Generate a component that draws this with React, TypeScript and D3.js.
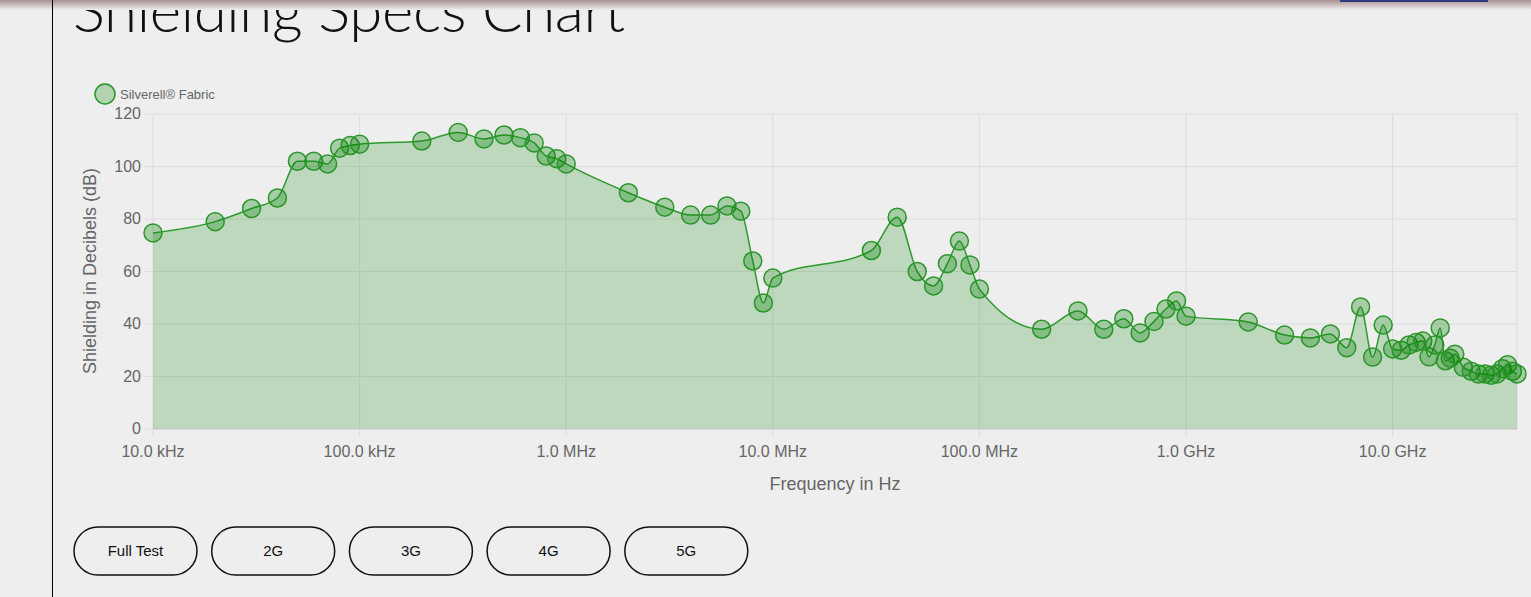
import React from "react";
import * as d3 from "d3";

const freqs = [1e4,2e4,3e4,4e4,5e4,6e4,7e4,8e4,9e4,1e5,2e5,3e5,4e5,5e5,6e5,7e5,8e5,9e5,1e6,2e6,3e6,4e6,5e6,6e6,7e6,8e6,9e6,1e7,3e7,4e7,5e7,6e7,7e7,8e7,9e7,1e8,2e8,3e8,4e8,5e8,6e8,7e8,8e8,9e8,1e9,2e9,3e9,4e9,5e9,6e9,7e9,8e9,9e9,1e10,1.1e10,1.2e10,1.3e10,1.4e10,1.5e10,1.6e10,1.7e10,1.8e10,1.9e10,2e10,2.2e10,2.4e10,2.6e10,2.8e10,3e10,3.2e10,3.4e10,3.6e10,3.8e10,4e10];
const shielding = [74.7,79,84,88,102,102,101,107,108,108.5,109.7,113,110.5,112,111,109,104,103,101,90,84.5,81.5,81.5,85,83,64,48,57.5,68,80.7,60,54.5,63,71.6,62.5,53.3,38,45,38,42,36.6,41,45.7,48.8,43,40.8,35.8,34.7,36.2,31,46.5,27.4,39.6,30.5,30,32,33,33.5,27.5,32,38.5,26,27,28.5,23.5,22,21,21,20.5,21,23,24.5,22,21];
const yTicks = [0,20,40,60,80,100,120];
const xTicks = [1e4,1e5,1e6,1e7,1e8,1e9,1e10];
const xTickLabels = ["10.0 kHz","100.0 kHz","1.0 MHz","10.0 MHz","100.0 MHz","1.0 GHz","10.0 GHz"];
const buttons = ["Full Test","2G","3G","4G","5G"];

export default function App() {
  const x = d3.scaleLog().domain([1e4, 4e10]).range([153, 1517]);
  const y = d3.scaleLinear().domain([0, 120]).range([429, 114]);
  const pts = freqs.map((f, i) => [f, shielding[i]] as [number, number]);
  const line = d3.line<[number, number]>().x(d => x(d[0])).y(d => y(d[1])).curve(d3.curveMonotoneX);
  const area = d3.area<[number, number]>().x(d => x(d[0])).y0(y(0)).y1(d => y(d[1])).curve(d3.curveMonotoneX);
  const gray = "#666";
  return (
    <svg width={1531} height={597} style={{ position: "absolute", left: 0, top: 0, fontFamily: "Arial, 'Liberation Sans', sans-serif" }}>
      <defs>
        <linearGradient id="sh" x1="0" y1="0" x2="0" y2="1">
          <stop offset="0" stopColor="#a89090" />
          <stop offset="1" stopColor="#eeeeee" />
        </linearGradient>
      </defs>
      <rect width={1531} height={597} fill="#eeeeee" />
      <text x={73} y={32} fontSize={60} fontFamily="Lato, sans-serif" fontWeight={300} fill="#111" textLength={552}>Shielding Specs Chart</text>
      <rect width={1531} height={10} fill="url(#sh)" />
      <rect x={1340} y={0} width={148} height={2} fill="#2d3a80" />
      <line x1={52.5} x2={52.5} y1={0} y2={597} stroke="#000" strokeWidth={1} />
      {yTicks.map(t => (
        <g key={t}>
          <line x1={145} x2={1517} y1={y(t)} y2={y(t)} stroke="#dcdcdc" />
          <text x={141} y={y(t) + 5} textAnchor="end" fontSize={16} fill={gray}>{t}</text>
        </g>
      ))}
      {xTicks.map((t, i) => (
        <g key={t}>
          <line x1={x(t)} x2={x(t)} y1={114} y2={437} stroke="#dcdcdc" />
          <text x={x(t)} y={457} textAnchor="middle" fontSize={16} fill={gray}>{xTickLabels[i]}</text>
        </g>
      ))}
      <line x1={1517} x2={1517} y1={114} y2={429} stroke="#dcdcdc" />
      <path d={area(pts) || ""} fill="rgba(0,128,0,0.2)" />
      <path d={line(pts) || ""} fill="none" stroke="#2e9a2e" strokeWidth={1.5} />
      {pts.map((p, i) => (
        <circle key={i} cx={x(p[0])} cy={y(p[1])} r={9} fill="rgba(0,128,0,0.3)" stroke="#2a952a" strokeWidth={1.5} />
      ))}
      <line x1={153} x2={1517} y1={429} y2={429} stroke="#ccc" />
      <circle cx={105} cy={94} r={10} fill="rgba(0,128,0,0.25)" stroke="#2a952a" strokeWidth={1.5} />
      <text x={120} y={99} fontSize={13} fill={gray}>Silverell® Fabric</text>
      <text transform="translate(96,271) rotate(-90)" textAnchor="middle" fontSize={18} fill={gray}>Shielding in Decibels (dB)</text>
      <text x={835} y={490} textAnchor="middle" fontSize={18} fill={gray}>Frequency in Hz</text>
      {buttons.map((b, i) => (
        <g key={b}>
          <rect x={74 + i * 137.7} y={527} width={123} height={48} rx={24} fill="#eeeeee" stroke="#111" strokeWidth={1.5} />
          <text x={135.5 + i * 137.7} y={556} textAnchor="middle" fontSize={15} fill="#111">{b}</text>
        </g>
      ))}
    </svg>
  );
}
